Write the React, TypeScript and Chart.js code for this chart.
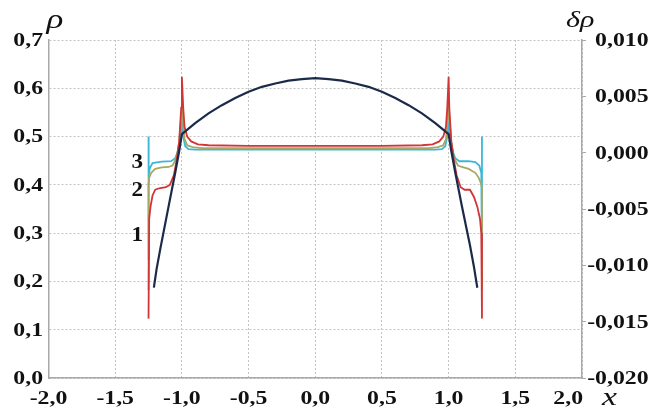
import React, { useEffect, useRef } from "react";
import { Chart, registerables } from "chart.js";

Chart.register(...registerables);

// ---------- data ----------
// x axis ticks range / steps
const xMin = -2.0;
const xMax = 2.0;
const xStep = 0.5;
// left axis (rho)
const rhoMin = 0.0;
const rhoMax = 0.7;
const rhoStep = 0.1;
// right axis (delta rho)
const dRhoMin = -0.02;
const dRhoMax = 0.01;
const dRhoStep = 0.005;

// dark curve, rho (left axis)
const navyX = [-1.21, -1.19, -1.16, -1.1, -1.05, -1.02, -1.0, -0.9, -0.8, -0.7, -0.6, -0.5, -0.4, -0.3, -0.2, -0.1, 0.0, 0.1, 0.2, 0.3, 0.4, 0.5, 0.6, 0.7, 0.8, 0.9, 1.0, 1.02, 1.05, 1.1, 1.16, 1.19, 1.215];
const navyRho = [0.187, 0.225, 0.27, 0.355, 0.425, 0.47, 0.505, 0.528, 0.548, 0.565, 0.58, 0.593, 0.603, 0.61, 0.616, 0.619, 0.621, 0.619, 0.616, 0.61, 0.603, 0.593, 0.58, 0.565, 0.548, 0.528, 0.505, 0.47, 0.425, 0.355, 0.275, 0.23, 0.187];

// curve 1 (red), delta rho (right axis)
const redX = [-1.25, -1.245, -1.235, -1.22, -1.2, -1.17, -1.12, -1.09, -1.06, -1.04, -1.02, -1.005, -1.0, -0.99, -0.98, -0.96, -0.93, -0.88, -0.8, -0.5, 0.0, 0.5, 0.8, 0.88, 0.93, 0.96, 0.98, 0.99, 1.0, 1.005, 1.02, 1.04, 1.06, 1.09, 1.12, 1.16, 1.19, 1.215, 1.235, 1.245, 1.25];
const redDRho = [-0.01473, -0.00586, -0.00479, -0.0038, -0.00329, -0.00316, -0.00307, -0.00286, -0.002, -0.00071, 0.001, 0.004, 0.00674, 0.004, 0.00229, 0.00143, 0.001, 0.00074, 0.00066, 0.00061, 0.00061, 0.00061, 0.00066, 0.00074, 0.001, 0.00143, 0.00229, 0.004, 0.00674, 0.004, 0.001, -0.00071, -0.002, -0.00307, -0.00329, -0.00329, -0.00393, -0.00479, -0.00586, -0.00714, -0.01473];

// curve 2 (olive), delta rho
const oliveX = [-1.25, -1.25, -1.245, -1.23, -1.2, -1.15, -1.1, -1.07, -1.04, -1.02, -1.005, -1.0, -0.995, -0.98, -0.96, -0.92, -0.85, 0.0, 0.85, 0.92, 0.96, 0.98, 0.995, 1.0, 1.005, 1.02, 1.04, 1.07, 1.1, 1.15, 1.2, 1.225, 1.24, 1.25, 1.25];
const oliveDRho = [-0.0122, -0.00286, -0.00221, -0.00179, -0.00144, -0.00131, -0.00127, -0.00114, -0.0005, 0.001, 0.00314, 0.00486, 0.00314, 0.00121, 0.00066, 0.00049, 0.0004, 0.0004, 0.0004, 0.00049, 0.00066, 0.00121, 0.00314, 0.00486, 0.00314, 0.001, -0.0005, -0.00114, -0.00127, -0.00144, -0.00179, -0.00221, -0.00264, -0.00307, -0.0122];

// curve 3 (cyan), delta rho
const cyanX = [-1.25, -1.25, -1.248, -1.24, -1.22, -1.15, -1.08, -1.05, -1.03, -1.01, -1.0, -0.99, -0.975, -0.95, -0.9, 0.0, 0.9, 0.95, 0.975, 0.99, 1.0, 1.01, 1.03, 1.05, 1.08, 1.15, 1.2, 1.23, 1.245, 1.25, 1.25];
const cyanDRho = [0.00143, -0.0095, -0.002, -0.00136, -0.00093, -0.0008, -0.00076, -0.0005, 0.00014, 0.00143, 0.00271, 0.00143, 0.00057, 0.00031, 0.00027, 0.00027, 0.00027, 0.00031, 0.00057, 0.00143, 0.00271, 0.00143, 0.00014, -0.0005, -0.00076, -0.00076, -0.00084, -0.00114, -0.00179, -0.0095, 0.00143];

// curve number labels (placed in x / rho units)
const curveLabels = ["1", "2", "3"];
const curveLabelX = [-1.335, -1.335, -1.335];
const curveLabelRho = [0.296, 0.389, 0.447];

// axis symbols
const leftAxisSymbol = "ρ";
const rightAxisSymbol = "δρ";
const xAxisSymbol = "x";

// ---------- styling ----------
const SERIF = '"Liberation Serif", "Times New Roman", serif';
const GRID = "#c4c4c4";
const AXIS = "#a8a8a8";
const TICK_FONT = `bold 19px ${SERIF}`;
const STRETCH = 1.25;

const pts = (xs: number[], ys: number[]) => xs.map((x, i) => ({ x, y: ys[i] }));

const fmt = (v: number, d: number) => {
  const s = Number(v).toFixed(d);
  return (/^-0[.,]0+$/.test(s) ? s.slice(1) : s).replace(".", ",");
};

function stretchedText(ctx: any, text: string, x: number, y: number, align: string, baseline: string, font: string, sx: number) {
  ctx.save();
  ctx.translate(x, y);
  ctx.scale(sx, 1);
  ctx.font = font;
  ctx.textAlign = align;
  ctx.textBaseline = baseline;
  ctx.fillText(text, 0, 0);
  ctx.restore();
}

const textPlugin = {
  id: "extraText",
  afterDraw(chart: any) {
    const ctx = chart.ctx;
    const xs = chart.scales.x;
    const ys = chart.scales.y;
    const y1 = chart.scales.y1;
    const area = chart.chartArea;
    ctx.save();
    ctx.fillStyle = "#111";
    // tick labels from the library's own scales
    xs.ticks.forEach((t: any) => {
      const px = xs.getPixelForValue(t.value);
      const last = Math.abs(t.value - xMax) < 1e-9;
      stretchedText(ctx, fmt(t.value, 1), last ? px + 1 : px, area.bottom + 21, last ? "right" : "center", "middle", TICK_FONT, STRETCH);
    });
    ys.ticks.forEach((t: any) => {
      stretchedText(ctx, fmt(t.value, 1), area.left - 5.5, ys.getPixelForValue(t.value) + 1, "right", "middle", TICK_FONT, STRETCH);
    });
    y1.ticks.forEach((t: any) => {
      stretchedText(ctx, fmt(t.value, 3), 648.5, y1.getPixelForValue(t.value) + 1, "right", "middle", TICK_FONT, STRETCH);
    });
    // curve numbers
    curveLabels.forEach((t, i) => {
      stretchedText(ctx, t, xs.getPixelForValue(curveLabelX[i]), ys.getPixelForValue(curveLabelRho[i]), "center", "middle", `bold 22px ${SERIF}`, 1.05);
    });
    // axis symbols
    stretchedText(ctx, leftAxisSymbol, area.left - 2, area.top - 12.5, "left", "alphabetic", `italic 27px ${SERIF}`, 1.3);
    stretchedText(ctx, rightAxisSymbol, area.right - 16, area.top - 13, "left", "alphabetic", `italic 24px ${SERIF}`, 1.25);
    stretchedText(ctx, xAxisSymbol, area.right + 20, area.bottom + 27, "left", "alphabetic", `italic 26px ${SERIF}`, 1.3);
    ctx.restore();
  },
};

export default function App() {
  const ref = useRef<HTMLCanvasElement | null>(null);

  useEffect(() => {
    document.body.style.margin = "0";
    const canvas = ref.current;
    if (!canvas) return;
    const chart = new Chart(canvas, {
      type: "line",
      data: {
        datasets: [
          {
            label: "rho",
            data: pts(navyX, navyRho),
            yAxisID: "y",
            borderColor: "#1c2a4a",
            borderWidth: 2.2,
            pointRadius: 0,
            tension: 0,
            fill: false,
          },
          {
            label: "1",
            data: pts(redX, redDRho),
            yAxisID: "y1",
            borderColor: "#d23535",
            borderWidth: 1.8,
            pointRadius: 0,
            tension: 0,
            fill: false,
          },
          {
            label: "2",
            data: pts(oliveX, oliveDRho),
            yAxisID: "y1",
            borderColor: "#a7a865",
            borderWidth: 1.8,
            pointRadius: 0,
            tension: 0,
            fill: false,
          },
          {
            label: "3",
            data: pts(cyanX, cyanDRho),
            yAxisID: "y1",
            borderColor: "#3db7d6",
            borderWidth: 1.8,
            pointRadius: 0,
            tension: 0,
            fill: false,
          },
        ],
      },
      options: {
        animation: false,
        responsive: false,
        devicePixelRatio: 1,
        layout: { padding: { top: 40, left: 0, right: 0, bottom: 0 } },
        plugins: { legend: { display: false }, tooltip: { enabled: false } },
        scales: {
          x: {
            type: "linear",
            min: xMin,
            max: xMax,
            ticks: { display: false, stepSize: xStep },
            grid: { color: GRID, lineWidth: 1, drawTicks: false },
            border: { display: true, color: AXIS, width: 1.5, dash: [2, 2] },
            afterFit: (s: any) => {
              s.height = 35;
            },
          },
          y: {
            type: "linear",
            position: "left",
            min: rhoMin,
            max: rhoMax,
            ticks: { display: false, stepSize: rhoStep },
            grid: { color: GRID, lineWidth: 1, drawTicks: false },
            border: { display: true, color: AXIS, width: 1.5, dash: [2, 2] },
            afterFit: (s: any) => {
              s.width = 48.5;
            },
          },
          y1: {
            type: "linear",
            position: "right",
            min: dRhoMin,
            max: dRhoMax,
            ticks: { display: false, stepSize: dRhoStep },
            grid: { drawOnChartArea: false, drawTicks: true, tickLength: 4, color: AXIS },
            border: { display: true, color: AXIS, width: 1.5 },
            afterFit: (s: any) => {
              s.width = 71;
            },
          },
        },
      },
      plugins: [textPlugin],
    });
    return () => chart.destroy();
  }, []);

  return (
    <div style={{ width: 653, height: 413, background: "#fff" }}>
      <canvas ref={ref} width={653} height={413} style={{ display: "block" }} />
    </div>
  );
}
